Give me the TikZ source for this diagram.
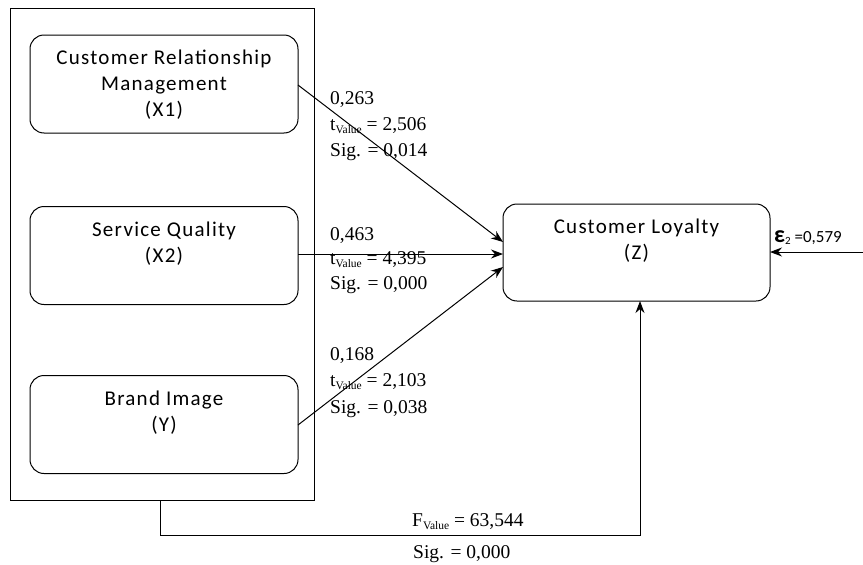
\documentclass[tikz,border=0pt]{standalone}
\usepackage{fontspec}
\setmainfont{Carlito}
\newfontfamily\boxfont[LetterSpace=6]{Carlito}
\newfontfamily\tnr{Liberation Serif}
\usetikzlibrary{arrows.meta}
\newcommand{\vsub}{\raisebox{-0.35ex}{\fontsize{11.5}{11.5}\selectfont Value}}
\tikzset{
  box/.style={draw, line width=1pt, rounded corners=14pt, minimum width=268pt, minimum height=98pt, inner sep=0pt},
  btxt/.style={font=\boxfont\fontsize{21}{26}\selectfont, align=center, inner sep=0pt},
  lbl/.style={font=\tnr\fontsize{19.5}{19.5}\selectfont, anchor=base west, inner sep=0pt},
  conn/.style={line width=1pt, -{Stealth[length=12pt,width=9pt]}},
}
\begin{document}
\begin{tikzpicture}[x=1pt,y=-1pt]
\useasboundingbox (0,0) rectangle (863,565);
\node[draw, line width=1pt, minimum width=304pt, minimum height=492pt, inner sep=0pt] (outer) at (162,254) {};
\node[box] (x1) at (164,84) {};
\node[box] (x2) at (164,255.5) {};
\node[box] (y) at (164,424.5) {};
\node[box, minimum width=267pt, minimum height=97pt] (z) at (636.5,252.5) {};
\node[btxt] (tx1) at (164,85) {Customer Relationship\\Management\\(X1)};
\node[btxt] (tx2) at (164,244) {Service Quality\\(X2)};
\node[btxt] (ty) at (164,413) {Brand Image\\(Y)};
\node[btxt] (tz) at (636.5,241) {Customer Loyalty\\(Z)};
% connectors
\coordinate (x1s) at (298,85);
\coordinate (z1) at (503,242);
\coordinate (x2s) at (298,254);
\coordinate (z2) at (503,254);
\coordinate (ys) at (298,425);
\coordinate (z3) at (503,267);
\draw[conn] (x1s) -- (z1);
\draw[conn] (x2s) -- (z2);
\draw[conn] (ys) -- (z3);
\coordinate (eps) at (863,252);
\coordinate (zr) at (770,252);
\draw[conn] (eps) -- (zr);
\coordinate (ob) at (160,500);
\coordinate (c1) at (160,535);
\coordinate (c2) at (640,535);
\coordinate (zb) at (640,301);
\draw[conn] (ob) -- (c1) -- (c2) -- (zb);
% labels
\node[lbl] (l1a) at (330,104) {0,263};
\node[lbl] (l1b) at (330,130) {t\vsub{} = 2,506};
\node[lbl] (l1c) at (330,156) {Sig. = 0,014};
\node[lbl] (l2a) at (330,240) {0,463};
\node[lbl] (l2b) at (330,264) {t\vsub{} = 4,395};
\node[lbl] (l2c) at (330,289) {Sig. = 0,000};
\node[lbl] (l3a) at (330,360) {0,168};
\node[lbl] (l3b) at (330,386) {t\vsub{} = 2,103};
\node[lbl] (l3c) at (330,413) {Sig. = 0,038};
\node[lbl] (lfa) at (412,526) {F\vsub{} = 63,544};
\node[lbl] (lfb) at (413,558) {Sig. = 0,000};
\node[anchor=base west, inner sep=0pt, font=\fontsize{17}{17}\selectfont] (le) at (774,242) {{\fontsize{24}{24}\selectfont\textbf{ε}}\raisebox{-0.3ex}{\fontsize{11}{11}\selectfont 2} =0,579};
\end{tikzpicture}
\end{document}
